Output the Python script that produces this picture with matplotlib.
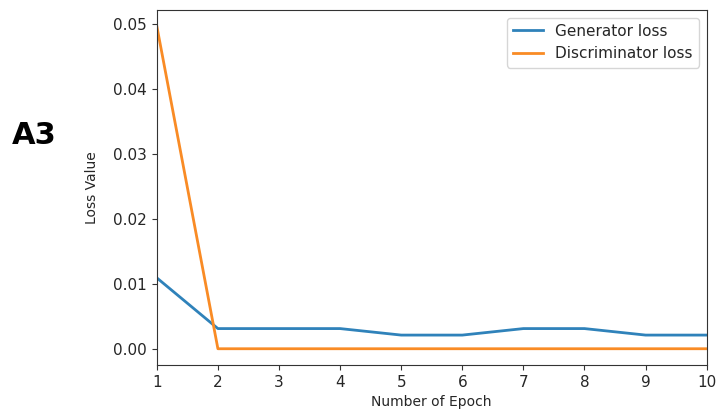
import matplotlib
matplotlib.use("Agg")
import matplotlib.pyplot as plt

# loss per epoch
epochs = [1, 2, 3, 4, 5, 6, 7, 8, 9, 10]
gen_loss = [0.0109, 0.0031, 0.0031, 0.0031, 0.0021, 0.0021, 0.0031, 0.0031, 0.0021, 0.0021]
disc_loss = [0.0496, 0.0, 0.0, 0.0, 0.0, 0.0, 0.0, 0.0, 0.0, 0.0]

fig = plt.figure(figsize=(7.16, 4.17), dpi=100)
ax = fig.add_axes([0.219, 0.125, 0.768, 0.851])

ax.plot(epochs, gen_loss, color="#2f82ba", lw=2, label="Generator loss")
ax.plot(epochs, disc_loss, color="#f98b25", lw=2, label="Discriminator loss")

ax.set_xlim(1, 10)
ax.set_xticks(epochs)
ax.set_yticks([0.0, 0.01, 0.02, 0.03, 0.04, 0.05])
ax.set_yticklabels(["0.00", "0.01", "0.02", "0.03", "0.04", "0.05"])
ax.tick_params(labelsize=11, labelcolor="#262626", color="#333333")
for s in ax.spines.values():
    s.set_color("#333333")
ax.set_xlabel("Number of Epoch", fontsize=10, color="#262626")
ax.set_ylabel("Loss Value", fontsize=10, color="#262626", labelpad=10)
ax.legend(loc="upper right", fontsize=11, labelcolor="#262626")

fig.text(0.048, 0.675, "A3", fontsize=22, fontweight="bold",
         ha="center", va="center")

fig.savefig("out.png", dpi=100)
